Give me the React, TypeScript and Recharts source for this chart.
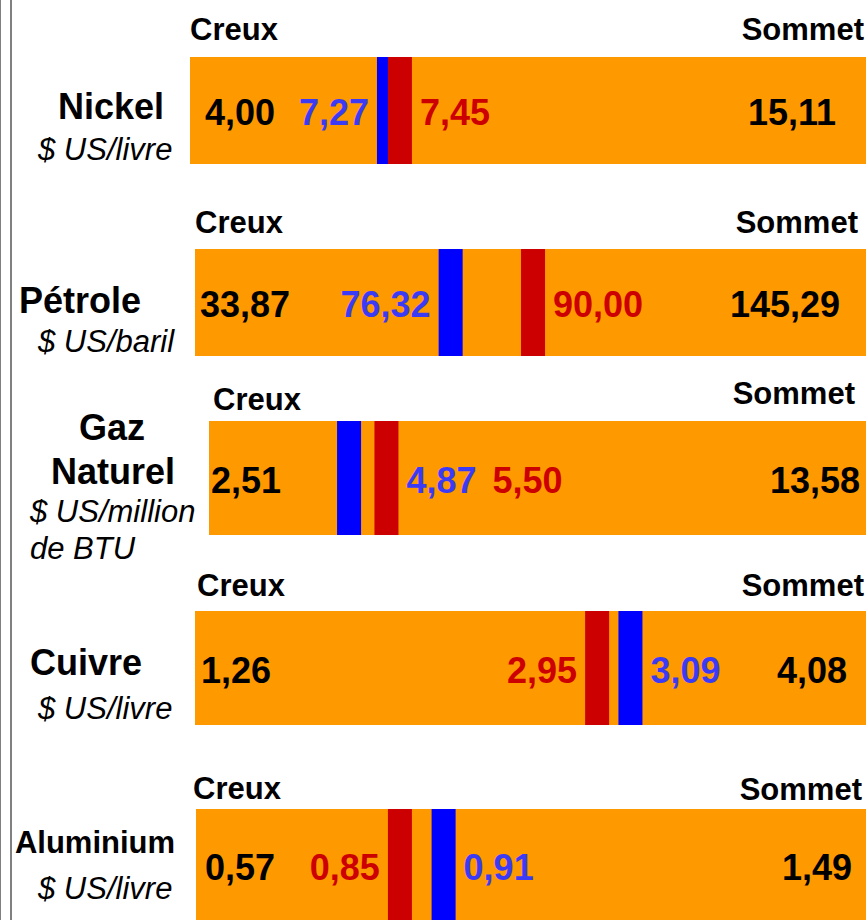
import { BarChart, Bar, XAxis, YAxis } from 'recharts'

const commodities = ['Nickel', 'Pétrole', 'Gaz Naturel', 'Cuivre', 'Aluminium']
const units = ['$ US/livre', '$ US/baril', '$ US/million de BTU', '$ US/livre', '$ US/livre']
const creux = [4.0, 33.87, 2.51, 1.26, 0.57]
const sommet = [15.11, 145.29, 13.58, 4.08, 1.49]
const blueValues = [7.27, 76.32, 4.87, 3.09, 0.91]
const redValues = [7.45, 90.0, 5.5, 2.95, 0.85]

const ORANGE = '#FF9900'
const BLUE = '#0000FF'
const BLUE_TEXT = '#3B3BF5'
const RED = '#CC0000'
const FONT = '"Liberation Sans", Arial, Helvetica, sans-serif'

// layout for each row (pixels)
const rows = [
  { barX: 190, barY: 57, barH: 107, creuxY: 40, sommetY: 40, creuxX: 190, sommetR: 864, creuxPad: 15, sommetPad: 30 },
  { barX: 195, barY: 249, barH: 107, creuxY: 233, sommetY: 233, creuxX: 195, sommetR: 858, creuxPad: 5, sommetPad: 26 },
  { barX: 209, barY: 421, barH: 114, creuxY: 410, sommetY: 404, creuxX: 213, sommetR: 855, creuxPad: 2, sommetPad: 6 },
  { barX: 195, barY: 611, barH: 114, creuxY: 596, sommetY: 596, creuxX: 197, sommetR: 864, creuxPad: 6, sommetPad: 19 },
  { barX: 196, barY: 809, barH: 112, creuxY: 799, sommetY: 800, creuxX: 193, sommetR: 862, creuxPad: 9, sommetPad: 14 },
]

const nameLines = [
  [{ t: 'Nickel', x: 111, y: 119 }],
  [{ t: 'Pétrole', x: 80, y: 313 }],
  [{ t: 'Gaz', x: 112, y: 440 }, { t: 'Naturel', x: 113, y: 484 }],
  [{ t: 'Cuivre', x: 86, y: 675 }],
  [{ t: 'Aluminium', x: 95, y: 853 }],
]
const unitLines = [
  [{ x: 38, y: 160 }],
  [{ x: 38, y: 352 }],
  [{ x: 30, y: 522 }, { x: 30, y: 559 }],
  [{ x: 38, y: 719 }],
  [{ x: 38, y: 899 }],
]

const fmt = (v: number) => v.toFixed(2).replace('.', ',')
const VALUE_SIZE = 36
// rough width of a bold number label (digits 0.556em, comma 0.278em)
const textW = (s: string) => s.split('').reduce((a, c) => a + (c === ',' ? 0.278 : 0.556), 0) * VALUE_SIZE
const MARKER_W = 24
const LABEL_GAP = 8

function RangeShape(props: any) {
  const { x, y, width, height, payload, lay } = props
  const cy = y + height / 2 + 2
  const px = (v: number) => x + ((v - payload.creux) / (payload.sommet - payload.creux)) * width
  const creuxEnd = x + lay.creuxPad + textW(fmt(payload.creux))
  const marks = [
    { v: payload.blueValue, color: BLUE_TEXT },
    { v: payload.redValue, color: RED },
  ].sort((a, b) => a.v - b.v)
  const p1 = px(marks[0].v)
  const p2 = px(marks[1].v)
  const w1 = textW(fmt(marks[0].v))
  let labels: { v: number; color: string; x: number; anchor: string }[]
  if (p1 - MARKER_W / 2 - LABEL_GAP - w1 >= creuxEnd + 6) {
    labels = [
      { ...marks[0], x: p1 - MARKER_W / 2 - LABEL_GAP, anchor: 'end' },
      { ...marks[1], x: p2 + MARKER_W / 2 + LABEL_GAP, anchor: 'start' },
    ]
  } else {
    // not enough room left of the first marker: put both labels to the right
    const start = p2 + MARKER_W / 2 + LABEL_GAP
    labels = [
      { ...marks[0], x: start, anchor: 'start' },
      { ...marks[1], x: start + w1 + 16, anchor: 'start' },
    ]
  }
  return (
    <g fontFamily={FONT} fontWeight="bold" fontSize={VALUE_SIZE}>
      <rect x={x} y={y} width={width} height={height} fill={ORANGE} />
      <text x={x + lay.creuxPad} y={cy} dominantBaseline="central" fill="#000">
        {fmt(payload.creux)}
      </text>
      <text x={x + width - lay.sommetPad} y={cy} dominantBaseline="central" textAnchor="end" fill="#000">
        {fmt(payload.sommet)}
      </text>
      {labels.map((l, k) => (
        <text key={k} x={l.x} y={cy} dominantBaseline="central" textAnchor={l.anchor as any} fill={l.color}>
          {fmt(l.v)}
        </text>
      ))}
    </g>
  )
}

function MarkerShape(props: any) {
  const { x, y, width, height, color } = props
  const cx = x + width
  return <rect x={cx - MARKER_W / 2} y={y} width={MARKER_W} height={height} fill={color} />
}

function CommodityRow({ i }: { i: number }) {
  const lay = rows[i]
  const w = 866 - lay.barX
  const data = [
    {
      name: commodities[i],
      creux: creux[i],
      sommet: sommet[i],
      blueValue: blueValues[i],
      redValue: redValues[i],
      range: [creux[i], sommet[i]],
      blue: [creux[i], blueValues[i]],
      red: [creux[i], redValues[i]],
    },
  ]
  return (
    <div style={{ position: 'absolute', left: lay.barX, top: lay.barY }}>
      <BarChart width={w} height={lay.barH} data={data} layout="vertical" margin={{ top: 0, right: 0, bottom: 0, left: 0 }} barCategoryGap={0}>
        <XAxis type="number" hide domain={[creux[i], sommet[i]]} allowDataOverflow />
        <YAxis yAxisId="bg" type="category" dataKey="name" hide />
        <YAxis yAxisId="b" type="category" dataKey="name" hide />
        <YAxis yAxisId="r" type="category" dataKey="name" hide />
        <Bar yAxisId="bg" dataKey="range" isAnimationActive={false} shape={(p: any) => <RangeShape {...p} lay={lay} />} />
        <Bar yAxisId="b" dataKey="blue" isAnimationActive={false} shape={(p: any) => <MarkerShape {...p} color={BLUE} />} />
        <Bar yAxisId="r" dataKey="red" isAnimationActive={false} shape={(p: any) => <MarkerShape {...p} color={RED} />} />
      </BarChart>
    </div>
  )
}

export default function App() {
  return (
    <div style={{ position: 'absolute', left: 0, top: 0, width: 868, height: 920, background: '#fff', overflow: 'hidden' }}>
      <svg width={868} height={920} style={{ position: 'absolute', left: 0, top: 0 }}>
        <rect x={0} y={0} width={1} height={920} fill="#808080" />
        <rect x={10} y={0} width={2} height={920} fill="#808080" />
        {rows.map((lay, i) => (
          <g key={i} fontFamily={FONT} fontWeight="bold" fontSize={31} fill="#000">
            <text x={lay.creuxX} y={lay.creuxY}>Creux</text>
            <text x={lay.sommetR} y={lay.sommetY} textAnchor="end">Sommet</text>
          </g>
        ))}
        {nameLines.map((lines, i) =>
          lines.map((l, j) => (
            <text key={`n${i}${j}`} x={l.x} y={l.y} textAnchor="middle" fontFamily={FONT} fontWeight="bold" fontSize={i === 4 ? 31 : 36} fill="#000">
              {l.t}
            </text>
          ))
        )}
        {unitLines.map((lines, i) => {
          const parts = lines.length > 1 ? ['$ US/million', 'de BTU'] : [units[i]]
          return lines.map((l, j) => (
            <text key={`u${i}${j}`} x={l.x} y={l.y} fontFamily={FONT} fontStyle="italic" fontSize={31} fill="#000">
              {parts[j]}
            </text>
          ))
        })}
      </svg>
      {commodities.map((_, i) => (
        <CommodityRow key={i} i={i} />
      ))}
    </div>
  )
}
